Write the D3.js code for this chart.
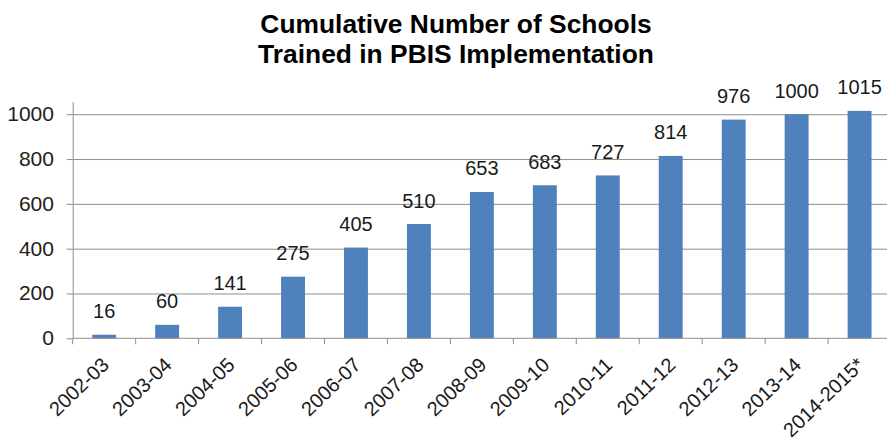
<!DOCTYPE html>
<html>
<head>
<meta charset="utf-8">
<script src="https://cdn.jsdelivr.net/npm/d3@7"></script>
<style>
  html, body { margin: 0; padding: 0; background: #ffffff; }
  svg { display: block; }
  text { font-family: "Liberation Sans", Arial, sans-serif; }
</style>
</head>
<body>
<svg id="chart" width="887" height="443"></svg>
<script>
const categories = ["2002-03","2003-04","2004-05","2005-06","2006-07","2007-08","2008-09","2009-10","2010-11","2011-12","2012-13","2013-14","2014-2015*"];
const schools = [16, 60, 141, 275, 405, 510, 653, 683, 727, 814, 976, 1000, 1015];
const yTicks = [0, 200, 400, 600, 800, 1000];
const titleLines = ["Cumulative Number of Schools", "Trained in PBIS Implementation"];

(function () {
const W = 887, H = 443;
const plotLeft = 72.7, plotBottom = 338.3, plotTop = 101.7;
const step = 62.95;
const svg = d3.select("#chart");

const x = d3.scaleBand()
  .domain(categories)
  .range([plotLeft, plotLeft + step * categories.length])
  .paddingInner(0.62)
  .paddingOuter(0.31);

const y = d3.scaleLinear().domain([0, 1056]).range([plotBottom, plotTop]);

// title
svg.append("g").selectAll("text").data(titleLines).join("text")
  .attr("transform", (d, i) => `translate(456,${33.3 + i * 30}) scale(1.035,1)`)
  .attr("text-anchor", "middle")
  .attr("font-size", "25.5px")
  .attr("font-weight", "bold")
  .attr("fill", "#000")
  .text(d => d);

// gridlines
const grid = svg.append("g")
  .attr("transform", `translate(${plotLeft},0)`)
  .call(d3.axisLeft(y).tickValues(yTicks.filter(v => v > 0)).tickSize(-(W - plotLeft)).tickFormat(""));
grid.select(".domain").remove();
grid.selectAll(".tick line").attr("stroke", "#8e8e8e").attr("stroke-width", 1);

// y axis
const yAxis = svg.append("g")
  .attr("transform", `translate(${plotLeft},0)`)
  .call(d3.axisLeft(y).tickValues(yTicks).tickSizeInner(6).tickSizeOuter(0).tickPadding(0).tickFormat(""));
yAxis.select(".domain").attr("stroke", "#8e8e8e");
yAxis.selectAll(".tick line").attr("stroke", "#8e8e8e");

svg.append("g").selectAll("text").data(yTicks).join("text")
  .attr("transform", d => `translate(54,${y(d) + 7}) scale(1.08,1)`)
  .attr("text-anchor", "end")
  .attr("font-size", "19.5px")
  .attr("fill", "#222")
  .text(d => d);

// bars
svg.append("g").selectAll("rect").data(schools).join("rect")
  .attr("x", (d, i) => x(categories[i]))
  .attr("y", d => y(d))
  .attr("width", x.bandwidth())
  .attr("height", d => y(0) - y(d))
  .attr("fill", "#4f81bd");

// value labels
svg.append("g").selectAll("text").data(schools).join("text")
  .attr("x", (d, i) => x(categories[i]) + x.bandwidth() / 2)
  .attr("y", d => y(d) - 16.5)
  .attr("text-anchor", "middle")
  .attr("font-size", "20px")
  .attr("fill", "#1a1a1a")
  .text(d => d);

// x axis line and boundary ticks
const r = x.range();
svg.append("line")
  .attr("x1", plotLeft).attr("x2", W)
  .attr("y1", plotBottom).attr("y2", plotBottom)
  .attr("stroke", "#8e8e8e");
const bounds = d3.range(categories.length + 1).map(i => r[0] + x.step() * i);
svg.append("g").selectAll("line").data(bounds).join("line")
  .attr("x1", d => d).attr("x2", d => d)
  .attr("y1", plotBottom).attr("y2", plotBottom + 6)
  .attr("stroke", "#8e8e8e");

// category labels
svg.append("g").selectAll("text").data(categories).join("text")
  .attr("transform", d => `translate(${x(d) + x.bandwidth() / 2 + 6},${plotBottom + 28}) rotate(-44)`)
  .attr("text-anchor", "end")
  .attr("font-size", "20px")
  .attr("fill", "#1a1a1a")
  .text(d => d);
})();
</script>
</body>
</html>
